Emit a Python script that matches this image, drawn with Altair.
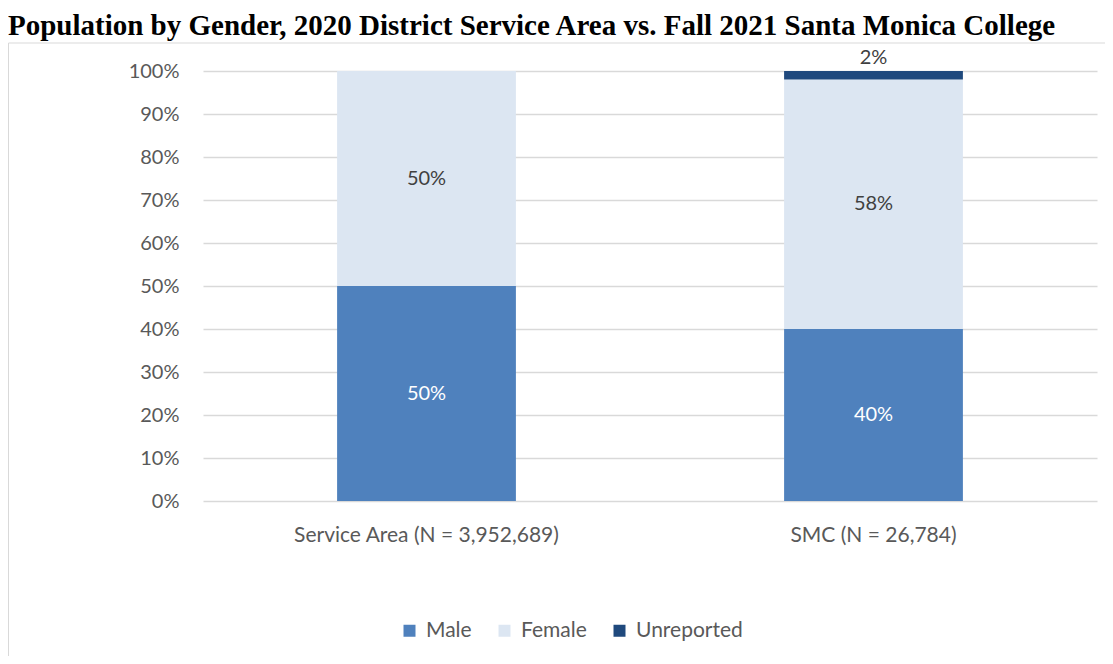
import altair as alt
import pandas as pd

title_text = "Population by Gender, 2020 District Service Area vs. Fall 2021 Santa Monica College"
categories = ["Service Area (N = 3,952,689)", "SMC (N = 26,784)"]
genders = ["Male", "Female", "Unreported"]
male = [50, 40]
female = [50, 58]
unreported = [0, 2]
colors = ["#4F81BD", "#DCE6F2", "#1F497D"]

rows = []
for i, c in enumerate(categories):
    for k, (g, vals) in enumerate(zip(genders, [male, female, unreported])):
        rows.append({"category": c, "gender": g, "order": k, "value": vals[i]})
df = pd.DataFrame(rows)
df_title = pd.DataFrame({"t": [title_text]})

FONT = "Lato"
GRAY = "#595959"

base = alt.Chart(df).transform_stack(
    stack="value", as_=["lo", "hi"], groupby=["category"], sort=[alt.SortField("order")]
)

x_enc = alt.X(
    "category:N",
    sort=categories,
    scale=alt.Scale(paddingInner=0.6, paddingOuter=0.3),
    axis=alt.Axis(title=None, labelAngle=0, labelFont=FONT, labelFontSize=21, labelLimit=0,
                  labelColor=GRAY, labelPadding=23, ticks=False, domain=False, grid=False),
)

bars = base.mark_bar().encode(
    x=x_enc,
    y=alt.Y("lo:Q", scale=alt.Scale(domain=[0, 100], nice=False),
            axis=alt.Axis(values=list(range(0, 101, 10)), labelExpr="datum.value + '%'",
                          title=None, grid=True, gridColor="#D9D9D9", gridWidth=1.3,
                          domain=False, ticks=False, labelPadding=24, labelFont=FONT,
                          labelFontSize=20, labelColor=GRAY)),
    y2="hi:Q",
    color=alt.Color("gender:N", scale=alt.Scale(domain=genders, range=colors),
                    legend=alt.Legend(title=None, orient="none", legendX=196, legendY=549,
                                      direction="horizontal", symbolType="square",
                                      symbolSize=144, symbolStrokeWidth=0, symbolOpacity=1,
                                      labelFont=FONT, labelFontSize=21, labelColor=GRAY,
                                      columnPadding=22, labelOffset=6)),
)

inner = base.transform_filter(
    "datum.value > 0 && datum.gender != 'Unreported'"
).transform_calculate(
    pos="(datum.lo + datum.hi) / 2", lbl="datum.value + '%'"
).mark_text(font=FONT, fontSize=20, baseline="middle").encode(
    x=alt.X("category:N", sort=categories),
    y=alt.Y("pos:Q"),
    text="lbl:N",
    color=alt.condition(alt.datum.gender == "Male", alt.value("#FFFFFF"), alt.value("#404040")),
)

top = base.transform_filter(
    "datum.value > 0 && datum.gender == 'Unreported'"
).transform_calculate(lbl="datum.value + '%'").mark_text(
    font=FONT, fontSize=20, baseline="middle", dy=-13, color="#404040"
).encode(
    x=alt.X("category:N", sort=categories),
    y=alt.Y("hi:Q"),
    text="lbl:N",
)

title = alt.Chart(df_title).mark_text(
    align="left", baseline="alphabetic", font="Liberation Serif", fontWeight="bold",
    fontSize=29, color="black"
).encode(x=alt.value(-195), y=alt.value(-36), text="t:N")

border_left = alt.Chart(df_title).mark_rule(color="#D9D9D9", strokeWidth=1).encode(
    x=alt.value(-194.5), y=alt.value(-28), y2=alt.value(600))
border_top = alt.Chart(df_title).mark_rule(color="#D9D9D9", strokeWidth=1).encode(
    x=alt.value(-194.5), x2=alt.value(1000), y=alt.value(-28))

chart = alt.layer(bars, inner, top, title, border_left, border_top).properties(
    width=894, height=430,
    padding={"left": 195, "top": 63, "right": 8, "bottom": 155},
    autosize=alt.AutoSizeParams(type="none"),
).configure_view(stroke=None)

chart.save("out.html", embed_options={"renderer": "svg", "actions": False})
